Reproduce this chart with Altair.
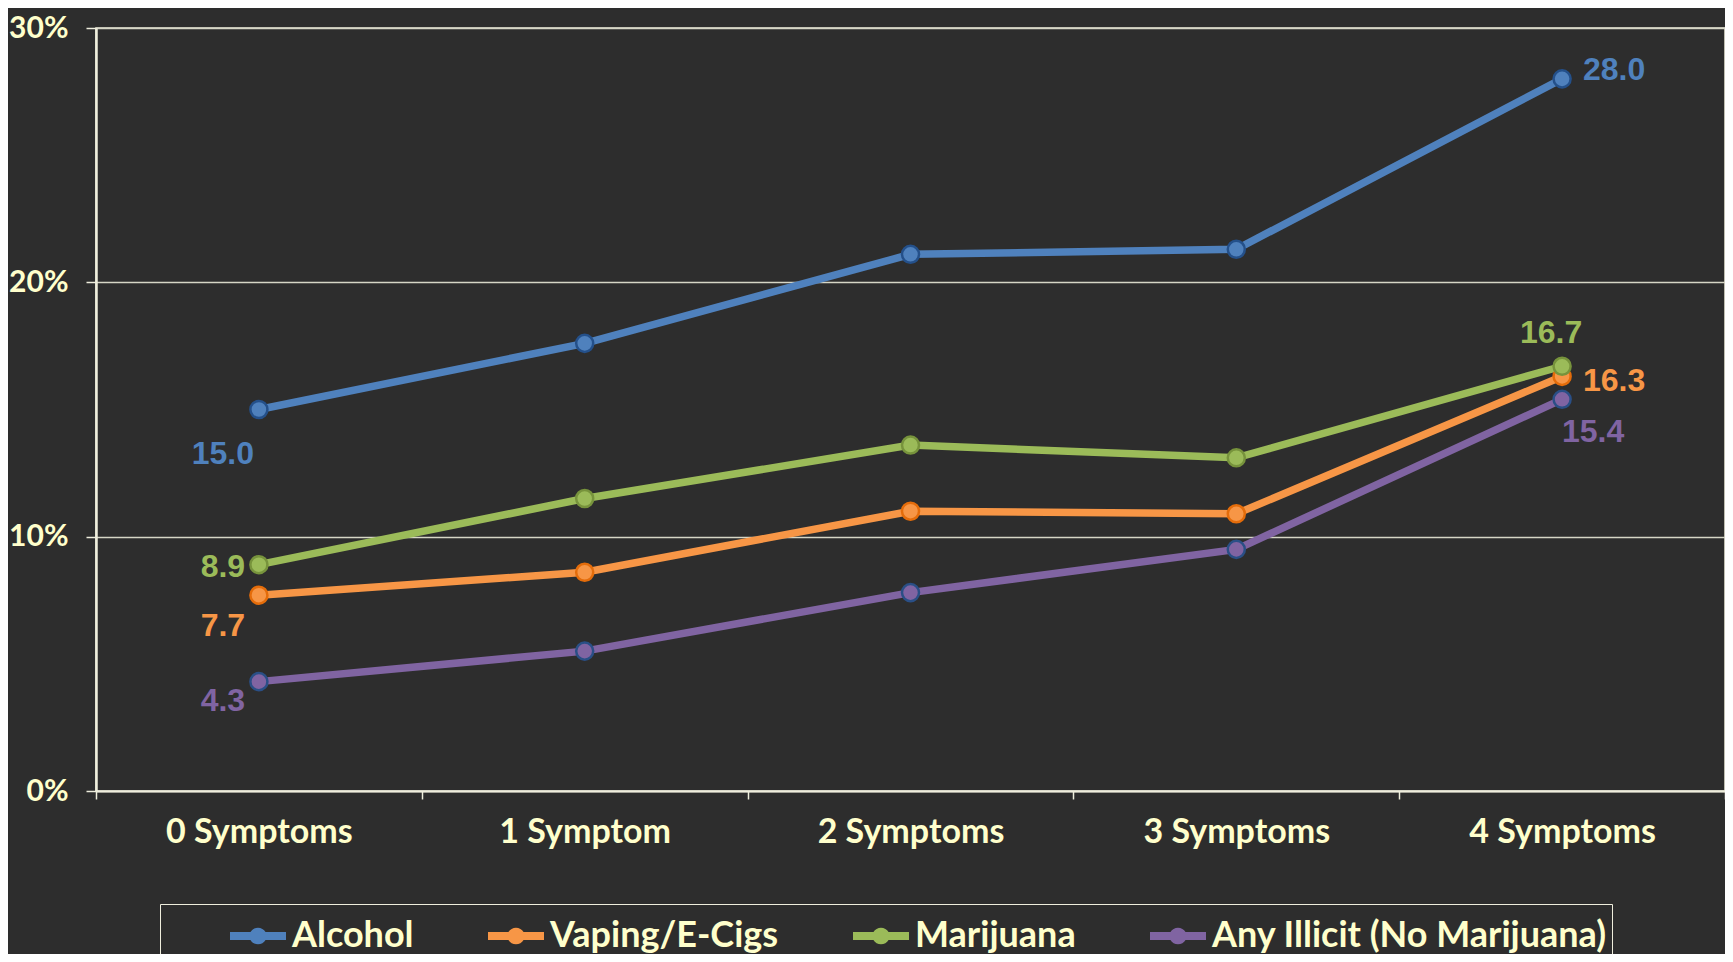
import altair as alt
import pandas as pd

categories = ["0 Symptoms", "1 Symptom", "2 Symptoms", "3 Symptoms", "4 Symptoms"]
series_names = ["Alcohol", "Vaping/E-Cigs", "Marijuana", "Any Illicit (No Marijuana)"]
alcohol = [15.0, 17.6, 21.1, 21.3, 28.0]
vaping = [7.7, 8.6, 11.0, 10.9, 16.3]
marijuana = [8.9, 11.5, 13.6, 13.1, 16.7]
illicit = [4.3, 5.5, 7.8, 9.5, 15.4]
y_ticks = [0, 10, 20, 30]

line_colors = ["#4F81BD", "#F79646", "#9BBB59", "#8064A2"]
edge_colors = ["#24508A", "#E46C0A", "#77933C", "#2A4F86"]

# label offsets (dx, dy) per series / category index
label_offsets = {
    ("Alcohol", 0): (-36, 44),
    ("Alcohol", 4): (52, -9),
    ("Vaping/E-Cigs", 0): (-36, 31),
    ("Vaping/E-Cigs", 4): (52, 5),
    ("Marijuana", 0): (-36, 2),
    ("Marijuana", 4): (-11, -33),
    ("Any Illicit (No Marijuana)", 0): (-36, 19),
    ("Any Illicit (No Marijuana)", 4): (31, 33),
}

rows = []
for s_i, (name, vals) in enumerate(zip(series_names, [alcohol, vaping, marijuana, illicit])):
    for i, (c, v) in enumerate(zip(categories, vals)):
        rows.append({"series": name, "cat": c, "value": v, "idx": i, "sorder": s_i})
df = pd.DataFrame(rows)

TEXT = "#FFFFCC"
GRID = "#d6d6c6"
AXIS = "#efeedd"
UI_FONT = "Lato"

x_enc = alt.X(
    "cat:N",
    sort=categories,
    bandPosition=0.5,
    scale=alt.Scale(type="band", paddingInner=0, paddingOuter=0),
    axis=alt.Axis(
        title=None,
        tickBand="extent",
        labelAngle=0,
        labelFont=UI_FONT,
        labelFontWeight="bold",
        labelFontSize=34,
        labelColor=TEXT,
        labelLimit=500,
        labelPadding=16,
        tickSize=8,
        tickColor=AXIS,
        tickWidth=1.5,
        domainColor=AXIS,
        domainWidth=2,
        grid=False,
    ),
)
y_enc = alt.Y(
    "value:Q",
    scale=alt.Scale(domain=[0, 30], nice=False),
    axis=alt.Axis(
        title=None,
        values=y_ticks,
        labelExpr="datum.value + '%'",
        labelFont=UI_FONT,
        labelFontWeight="bold",
        labelFontSize=30,
        labelColor=TEXT,
        labelPadding=18,
        tickSize=10,
        tickColor=AXIS,
        tickWidth=1.5,
        domainColor=AXIS,
        domainWidth=2.5,
        grid=True,
        gridColor=GRID,
        gridWidth=1.5,
    ),
)

base = alt.Chart(df)

lines = base.mark_line(strokeWidth=7.5).encode(
    x=x_enc,
    y=y_enc,
    stroke=alt.Stroke("series:N", scale=alt.Scale(domain=series_names, range=line_colors), legend=None),
    order=alt.Order("idx:Q"),
)

legend_symbol = (
    "M-1,-0.14L-0.27,-0.14A0.31,0.31 0 0,1 0.27,-0.14L1,-0.14L1,0.14L0.27,0.14"
    "A0.31,0.31 0 0,1 -0.27,0.14L-1,0.14Z"
)
legend_kwargs = dict(
    orient="none",
    legendX=64,
    legendY=876,
    direction="horizontal",
    columns=4,
    title=" ",
    titleOrient="left",
    titleFontSize=8,
    titlePadding=66,
    symbolType=legend_symbol,
    symbolSize=3136,
    symbolStrokeWidth=0,
    labelFont=UI_FONT,
    labelFontWeight="bold",
    labelFontSize=36,
    labelColor=TEXT,
    labelOffset=6,
    labelLimit=2000,
    columnPadding=74,
    padding=4,
    strokeColor=AXIS,
)

points = base.mark_point(filled=True, size=290, strokeWidth=2.5, opacity=1).encode(
    x=x_enc,
    y=y_enc,
    fill=alt.Fill(
        "series:N",
        scale=alt.Scale(domain=series_names, range=line_colors),
        legend=alt.Legend(**legend_kwargs),
    ),
    stroke=alt.Stroke(
        "series:N",
        scale=alt.Scale(domain=series_names, range=edge_colors),
        legend=None,
    ),
)

label_layers = []
for (s, i), (dx, dy) in label_offsets.items():
    col = line_colors[series_names.index(s)]
    label_layers.append(
        base.transform_filter((alt.datum.series == s) & (alt.datum.idx == i))
        .mark_text(
            dx=dx,
            dy=dy,
            align="center",
            baseline="middle",
            font="Liberation Sans",
            fontWeight="bold",
            fontSize=32,
            color=col,
        )
        .encode(x=x_enc, y=y_enc, text=alt.Text("value:Q", format=".1f"))
    )

chart = (
    alt.layer(lines, points, *label_layers)
    .resolve_scale(stroke="independent")
    .properties(
        width=1629,
        height=763,
        background="#2d2d2d",
        padding={"left": 88, "top": 20, "right": 0, "bottom": 163},
        autosize=alt.AutoSizeParams(type="none"),
    )
    .configure_view(stroke=AXIS, strokeWidth=1.5)
)

chart.save("out.html", embed_options={"renderer": "svg", "actions": False})
